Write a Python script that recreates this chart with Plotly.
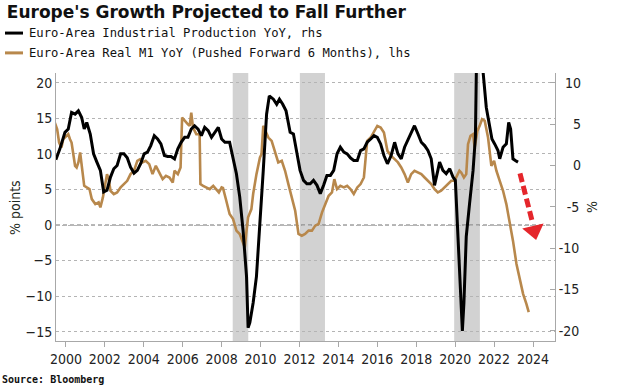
import plotly.graph_objects as go

# ---------------- data ----------------
title = "Europe's Growth Projected to Fall Further"
ip_name = "Euro-Area Industrial Production YoY, rhs"
m1_name = "Euro-Area Real M1 YoY (Pushed Forward 6 Months), lhs"

ip_years = [1999.48, 1999.69, 1999.95, 2000.12, 2000.29, 2000.47, 2000.64, 2000.81, 2000.94, 2001.07,
            2001.25, 2001.42, 2001.59, 2001.77, 2001.94, 2002.11, 2002.29, 2002.46, 2002.63, 2002.81,
            2002.98, 2003.15, 2003.32, 2003.50, 2003.67, 2003.84, 2004.02, 2004.19, 2004.36, 2004.54,
            2004.71, 2004.88, 2005.06, 2005.23, 2005.40, 2005.58, 2005.75, 2005.92, 2006.10, 2006.27,
            2006.44, 2006.61, 2006.79, 2006.96, 2007.13, 2007.31, 2007.48, 2007.65, 2007.83, 2008.00,
            2008.17, 2008.41, 2008.59, 2008.76, 2008.93, 2009.10, 2009.28, 2009.36, 2009.45, 2009.62,
            2009.79, 2009.97, 2010.14, 2010.31, 2010.45, 2010.66, 2010.83, 2010.97, 2011.14, 2011.31,
            2011.52, 2011.69, 2011.86, 2012.03, 2012.21, 2012.38, 2012.55, 2012.72, 2012.90, 2013.07,
            2013.24, 2013.41, 2013.59, 2013.76, 2013.93, 2014.10, 2014.28, 2014.45, 2014.62, 2014.79,
            2014.97, 2015.14, 2015.31, 2015.48, 2015.66, 2015.83, 2016.00, 2016.17, 2016.34, 2016.52,
            2016.71, 2016.89, 2017.06, 2017.23, 2017.40, 2017.57, 2017.74, 2017.91, 2018.09, 2018.26,
            2018.43, 2018.60, 2018.77, 2018.94, 2019.11, 2019.20, 2019.37, 2019.54, 2019.72, 2019.89,
            2020.01, 2020.14, 2020.28, 2020.37, 2020.45, 2020.57, 2020.74, 2020.92, 2021.04, 2021.12,
            2021.18, 2021.26, 2021.34, 2021.43, 2021.60, 2021.77, 2021.89, 2022.03, 2022.20, 2022.29,
            2022.46, 2022.63, 2022.75, 2022.85, 2022.97, 2023.09, 2023.23]
ip_values = [0.67, 1.99, 3.99, 4.39, 6.39, 6.19, 6.59, 5.79, 4.39, 5.19,
             3.79, 1.39, 0.39, -0.61, -3.22, -3.02, -1.42, -0.41, -0.02, 1.39,
             1.39, 0.91, -0.22, -0.94, -0.61, 0.19, 1.39, 1.59, 2.39, 3.59,
             3.19, 2.59, 1.19, 1.07, 1.07, 0.79, 1.99, 2.79, 3.39, 3.39,
             4.39, 4.79, 4.39, 3.59, 4.59, 4.19, 3.39, 3.99, 4.59, 3.19,
             2.79, 2.79, 0.99, -1.01, -3.82, -7.82, -13.43, -19.64, -19.04, -16.63,
             -13.43, -7.42, -0.61, 6.19, 8.40, 8.00, 7.39, 8.00, 7.39, 6.59,
             3.99, 3.79, 1.59, -0.61, -1.82, -2.22, -2.22, -1.82, -2.42, -3.42,
             -2.42, -1.22, -1.22, -0.61, 1.39, 2.19, 1.59, 1.39, 0.91, 0.59,
             0.59, 1.79, 1.99, 2.79, 3.19, 3.59, 3.39, 2.59, 1.19, 0.19,
             1.19, 2.79, 1.39, 0.79, 2.19, 2.99, 3.79, 4.79, 3.79, 2.79,
             2.39, 1.79, 0.79, -2.42, -0.61, 0.39, -0.61, -1.01, -0.41, -1.42,
             -1.82, -8.63, -16.63, -20.04, -16.63, -8.63, -4.62, -0.61, 3.39, 9.0,
             25.0, 39.5, 25.0, 11.4, 7.0, 5.0, 3.19, 2.59, 1.79, 0.79,
             2.19, 2.59, 5.19, 4.39, 0.79, 0.59, 0.39]

m1_years = [1999.43, 1999.55, 1999.65, 1999.77, 1999.86, 2000.00, 2000.12, 2000.21, 2000.29, 2000.38,
            2000.47, 2000.55, 2000.64, 2000.73, 2000.81, 2000.94, 2001.07, 2001.21, 2001.33, 2001.51,
            2001.68, 2001.77, 2001.90, 2002.03, 2002.11, 2002.20, 2002.29, 2002.46, 2002.63, 2002.81,
            2002.98, 2003.15, 2003.32, 2003.50, 2003.67, 2003.81, 2003.93, 2004.10, 2004.28, 2004.45,
            2004.62, 2004.80, 2004.97, 2005.14, 2005.32, 2005.49, 2005.58, 2005.75, 2005.89, 2005.97,
            2006.10, 2006.27, 2006.36, 2006.44, 2006.53, 2006.70, 2006.87, 2006.91, 2007.05, 2007.22,
            2007.39, 2007.57, 2007.74, 2007.86, 2008.00, 2008.07, 2008.24, 2008.41, 2008.59, 2008.76,
            2008.93, 2009.10, 2009.19, 2009.28, 2009.36, 2009.53, 2009.62, 2009.79, 2009.97, 2010.05,
            2010.14, 2010.22, 2010.40, 2010.57, 2010.74, 2010.91, 2011.09, 2011.26, 2011.43, 2011.60,
            2011.78, 2011.95, 2012.12, 2012.29, 2012.47, 2012.64, 2012.81, 2012.98, 2013.16, 2013.33,
            2013.50, 2013.67, 2013.79, 2013.93, 2014.10, 2014.28, 2014.45, 2014.62, 2014.79, 2014.97,
            2015.14, 2015.31, 2015.48, 2015.66, 2015.83, 2016.00, 2016.17, 2016.34, 2016.52, 2016.71,
            2016.89, 2017.06, 2017.23, 2017.40, 2017.57, 2017.74, 2017.91, 2018.09, 2018.26, 2018.43,
            2018.60, 2018.77, 2018.94, 2019.11, 2019.28, 2019.46, 2019.63, 2019.80, 2019.97, 2020.14,
            2020.22, 2020.31, 2020.45, 2020.57, 2020.66, 2020.79, 2020.92, 2021.00, 2021.14, 2021.26,
            2021.38, 2021.52, 2021.60, 2021.69, 2021.77, 2021.86, 2022.00, 2022.12, 2022.29, 2022.46,
            2022.63, 2022.80, 2022.97, 2023.15, 2023.32, 2023.49, 2023.66, 2023.78]
m1_values = [14.39, 13.46, 11.59, 10.89, 12.06, 12.52, 12.76, 12.06, 11.59, 9.95,
             8.32, 8.08, 8.79, 10.19, 8.08, 5.51, 5.28, 5.05, 3.64, 2.94,
             3.18, 2.48, 3.88, 5.98, 7.15, 6.45, 4.81, 4.35, 4.58, 5.28,
             5.75, 6.21, 7.15, 7.62, 9.02, 9.25, 8.79, 9.02, 8.55, 7.15,
             8.32, 7.38, 6.45, 6.92, 6.68, 5.98, 7.62, 7.15, 8.08, 15.09,
             14.63, 14.16, 13.93, 15.79, 13.69, 12.76, 12.76, 5.75, 5.51, 5.28,
             5.05, 5.51, 5.05, 4.58, 5.28, 5.20, 3.41, 1.54, 0.84, -0.79,
             -1.26, -2.66, -3.13, -0.79, 1.07, 2.24, 4.35, 7.15, 9.49, 9.95,
             13.93, 13.46, 12.29, 11.82, 10.42, 8.79, 9.02, 7.62, 5.75, 3.88,
             2.01, -1.26, -1.50, -1.26, -0.79, -0.79, -0.09, 0.14, 1.78, 2.94,
             4.11, 4.58, 6.45, 5.05, 5.51, 5.28, 5.51, 5.05, 4.35, 5.28,
             5.75, 6.68, 11.82, 12.29, 13.22, 13.93, 13.69, 12.99, 10.42, 9.72,
             9.25, 8.79, 8.08, 7.15, 5.98, 7.15, 7.62, 7.38, 7.15, 6.68,
             6.21, 5.75, 5.05, 4.58, 4.81, 5.28, 5.75, 6.21, 6.21, 7.15,
             7.62, 7.38, 6.68, 7.15, 11.36, 12.52, 12.76, 10.89, 13.22, 13.93,
             14.86, 14.63, 13.69, 12.29, 10.42, 8.32, 9.02, 7.62, 6.21, 4.81,
             2.94, 0.61, -2.20, -5.47, -7.80, -9.67, -11.07, -12.24]

recession_starts = [2008.57, 2012.02, 2019.95]
recession_ends = [2009.37, 2013.31, 2021.27]

x_tick_years = [2000, 2002, 2004, 2006, 2008, 2010, 2012, 2014, 2016, 2018, 2020, 2022, 2024]
left_ticks = [-15, -10, -5, 0, 5, 10, 15, 20]
right_ticks = [-20, -15, -10, -5, 0, 5, 10]
right_ticktext = ["-20", "-15", "-10", "-5", "0", "5", "10"]

# projection arrow (left-axis units): start, head centre
arrow_x = [2023.33, 2023.97]
arrow_y = [7.26, 0.4]
arrow_head_x = [2024.05]
arrow_head_y = [-0.8]

# ---------------- styling ----------------
BLACK = "#000000"
TAN = "#b8884c"
RED = "#e5262b"
GREY_BAR = "#d2d2d2"
AXIS = "#a8a8a8"
TICKFONT = dict(family="DejaVu Sans Condensed, Liberation Sans, sans-serif", size=14, color="#222222")
MONO = "DejaVu Sans Mono, Liberation Mono, monospace"

# pad right-axis labels so they look right-aligned
pad = {"-20": "", "-15": "", "-10": "", "-5": "\u2007", "0": "\u2007\u2002", "5": "\u2007\u2002", "10": "\u2002"}
right_ticktext_padded = [pad[t] + t for t in right_ticktext]

fig = go.Figure()

fig.add_trace(go.Scatter(x=m1_years, y=m1_values, mode="lines", name=m1_name,
                         line=dict(color=TAN, width=2.6), yaxis="y", showlegend=False))
fig.add_trace(go.Scatter(x=ip_years, y=ip_values, mode="lines", name=ip_name,
                         line=dict(color=BLACK, width=3), yaxis="y2", showlegend=False))

# red projection arrow
fig.add_trace(go.Scatter(x=arrow_x, y=arrow_y, mode="lines", yaxis="y",
                         line=dict(color=RED, width=5, dash="9px,4px"), showlegend=False,
                         hoverinfo="skip"))
fig.add_trace(go.Scatter(x=arrow_head_x, y=arrow_head_y, mode="markers", yaxis="y",
                         marker=dict(symbol="triangle-down", size=19, color=RED, angle=-13),
                         showlegend=False, hoverinfo="skip"))

shapes = []
for s, e in zip(recession_starts, recession_ends):
    shapes.append(dict(type="rect", xref="x", yref="paper", x0=s, x1=e, y0=0, y1=1,
                       fillcolor=GREY_BAR, line=dict(width=0), layer="below"))
# dashed zero line on the left axis
shapes.append(dict(type="line", xref="paper", yref="y", x0=0, x1=1, y0=0, y1=0,
                   line=dict(color="#707070", width=1, dash="4px,3px"), layer="below"))
# manual legend samples
shapes.append(dict(type="line", xref="paper", yref="paper", x0=-0.1022, x1=-0.0661, y0=1.149, y1=1.149,
                   line=dict(color=BLACK, width=3)))
shapes.append(dict(type="line", xref="paper", yref="paper", x0=-0.1022, x1=-0.0661, y0=1.075, y1=1.075,
                   line=dict(color=TAN, width=3)))

annotations = [
    dict(text=ip_name, xref="paper", yref="paper", x=-0.0581, y=1.149, xanchor="left", yanchor="middle",
         showarrow=False, font=dict(family=MONO, size=12.2, color="#111111")),
    dict(text=m1_name, xref="paper", yref="paper", x=-0.0581, y=1.075, xanchor="left", yanchor="middle",
         showarrow=False, font=dict(family=MONO, size=12.2, color="#111111")),
    dict(text="% points", xref="paper", yref="paper", x=-0.0822, y=0.5, textangle=-90,
         xanchor="center", yanchor="middle", showarrow=False,
         font=dict(family=TICKFONT["family"], size=14, color="#1f2a22")),
    dict(text="%", xref="paper", yref="paper", x=1.074, y=0.5, textangle=-90,
         xanchor="center", yanchor="middle", showarrow=False,
         font=dict(family=TICKFONT["family"], size=14, color="#1f2a22")),
    dict(text="<b>Source: Bloomberg</b>", xref="paper", yref="paper", x=-0.1122, y=-0.1418,
         xanchor="left", yanchor="middle", showarrow=False,
         font=dict(family=MONO, size=10, color="#111111")),
]

fig.update_layout(
    width=618, height=391,
    margin=dict(l=56, r=63, t=73, b=50),
    paper_bgcolor="white", plot_bgcolor="white",
    title=dict(text="<b>" + title + "</b>", xref="container", yref="container", x=0.011, y=0.968,
               xanchor="left", yanchor="middle",
               font=dict(family="DejaVu Sans, Verdana, sans-serif", size=17, color="#111111")),
    shapes=shapes, annotations=annotations,
    xaxis=dict(range=[1999.49, 2025.13], tickvals=x_tick_years, ticktext=[str(y) for y in x_tick_years],
               showgrid=False, zeroline=False, showline=True, linecolor=AXIS, linewidth=1,
               ticks="outside", ticklen=5, tickcolor=AXIS, tickfont=TICKFONT),
    yaxis=dict(range=[-16.3, 21.36], tickvals=left_ticks, showgrid=True, gridcolor="#b4b4b4",
               griddash="dot", gridwidth=1, zeroline=False, showline=True, linecolor=AXIS,
               ticks="", tickfont=TICKFONT),
    yaxis2=dict(range=[-21.25, 11.17], overlaying="y", side="right", tickvals=right_ticks,
                ticktext=right_ticktext_padded, showgrid=False, zeroline=False, showline=True,
                linecolor=AXIS, ticks="inside", ticklen=5, tickcolor=AXIS, tickfont=TICKFONT),
    showlegend=False,
)

fig.write_html("out.html", config={"displayModeBar": False},
               post_script="document.body.style.margin='0';")
